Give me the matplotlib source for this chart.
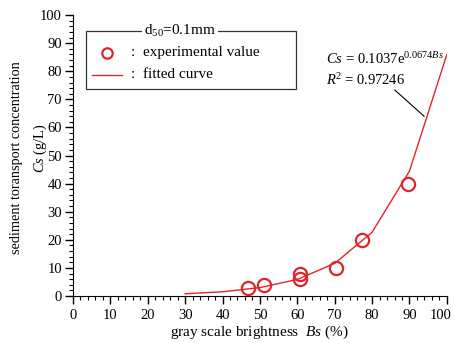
import matplotlib
matplotlib.use("Agg")
import matplotlib.pyplot as plt
from matplotlib.patches import Rectangle
from matplotlib.lines import Line2D
from matplotlib.ticker import MultipleLocator, FuncFormatter
from matplotlib.transforms import ScaledTranslation

plt.rcParams['font.family'] = ['Liberation Serif', 'DejaVu Serif']
plt.rcParams['mathtext.fontset'] = 'custom'
plt.rcParams['mathtext.rm'] = 'Liberation Serif'
plt.rcParams['mathtext.it'] = 'Liberation Serif:italic'

# experimental values
bs_exp = [46.8, 51.2, 60.6, 60.6, 70.4, 77.4, 89.6]
cs_exp = [3.0, 4.0, 6.0, 8.0, 10.0, 20.0, 40.0]

# fitted curve, read at every 10 %
bs_fit = [30, 40, 50, 60, 70, 80, 90, 100]
cs_fit = [0.8, 1.5, 3.0, 5.9, 11.6, 22.7, 44.5, 86.0]

red = '#e0242a'

fig = plt.figure(figsize=(4.56, 3.43), dpi=100)
ax = fig.add_axes([0.160, 0.137, 0.820, 0.819])

ax.plot(bs_fit, cs_fit, color=red, lw=1.0, zorder=2)
ax.plot(bs_exp, cs_exp, 'o', mfc='none', mec=red, mew=1.6, ms=9.5, zorder=3)

ax.set_xlim(0, 100)
ax.set_ylim(0, 100)
ax.xaxis.set_major_locator(MultipleLocator(10))
ax.xaxis.set_minor_locator(MultipleLocator(2))
ax.yaxis.set_major_locator(MultipleLocator(10))
ax.yaxis.set_minor_locator(MultipleLocator(2))
ax.spines['top'].set_visible(False)
ax.spines['right'].set_visible(False)
ax.tick_params(which='major', length=6, width=1, labelsize=10.5, direction='out')
ax.tick_params(which='minor', length=3, width=0.8, direction='out')
ax.tick_params(axis='y', pad=2)

# last x tick label sits a little left of its tick, as in the original
ax.xaxis.set_major_formatter(FuncFormatter(lambda v, p: '' if v >= 99.5 else f"{v:.0f}"))
shift = ax.get_xaxis_transform() + ScaledTranslation(-0.06, 0, fig.dpi_scale_trans)
ax.annotate("100", xy=(100, 0), xycoords=shift, xytext=(0, -9.5), textcoords='offset points',
            ha='center', va='top', fontsize=10.5)

ax.set_xlabel(r"gray scale brightness  $\it{Bs}$ (%)", fontsize=11, labelpad=1)

# two-line y label
fig.text(17 / 456, 1 - 158 / 343, "sediment toransport concentration",
         rotation=90, fontsize=10.3, ha='center', va='center')
fig.text(40 / 456, 1 - 148 / 343, r"$\it{Cs}$ (g/L)",
         rotation=90, fontsize=10.3, ha='center', va='center')

# fit equation and leader line
ax.text(67.6, 84.3, r"$\it{Cs}$ = 0.1037e$^{0.0674\it{Bs}}$", fontsize=10.5, va='center')
ax.text(67.6, 77.0, r"$\it{R}$$^{2}$ = 0.97246", fontsize=10.5, va='center')
ax.plot([86.1, 93.9], [73.3, 64.0], color='black', lw=0.8)

# legend box
ax.add_patch(Rectangle((3.5, 73.7), 56.1, 20.6, fill=False, ec='#333333', lw=0.9, zorder=4))
ax.text(28.6, 94.3, r"d$_{50}$=0.1mm", fontsize=11, ha='center', va='center',
        bbox=dict(fc='white', ec='none', pad=1.5), zorder=5)
ax.add_line(Line2D([9.2], [86.6], marker='o', mfc='none', mec=red, mew=1.6, ms=7.5, zorder=5))
ax.add_line(Line2D([5.1, 13.1], [78.8, 78.8], color=red, lw=1.0, zorder=5))
ax.text(15.5, 86.6, ":  experimental value", fontsize=11, va='center', zorder=5)
ax.text(15.5, 78.8, ":  fitted curve", fontsize=11, va='center', zorder=5)

fig.savefig("out.png", dpi=100)
